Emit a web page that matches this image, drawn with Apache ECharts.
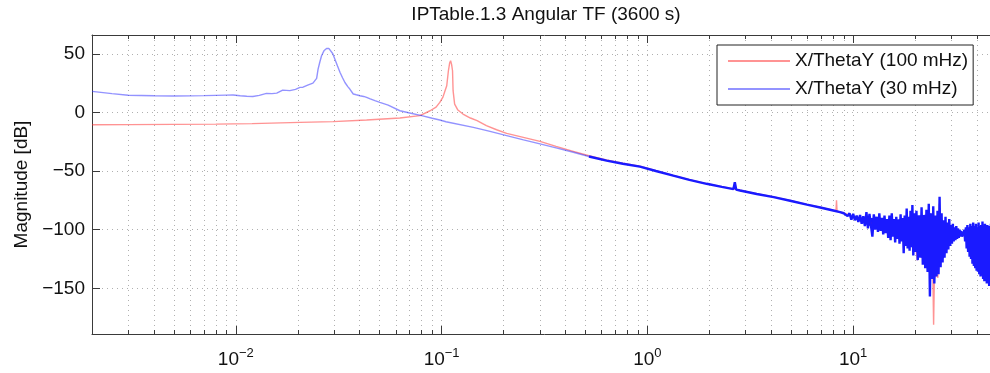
<!DOCTYPE html>
<html>
<head>
<meta charset="utf-8">
<script src="https://cdn.jsdelivr.net/npm/echarts@6/dist/echarts.min.js"></script>
<style>
  html, body { margin: 0; padding: 0; background: #fff; overflow: hidden; }
  #chart { width: 1000px; height: 373px; }
</style>
</head>
<body>
<div id="chart"></div>
<script>
// X/ThetaY (100 mHz) - red
const redFreq = [0.002, 0.003, 0.005, 0.008, 0.012, 0.0205, 0.0297, 0.0432, 0.0627, 0.0784,
  0.0879, 0.094, 0.098, 0.1015, 0.1039, 0.1059, 0.1079, 0.1094, 0.1106, 0.1118,
  0.113, 0.1137, 0.1157, 0.12, 0.127, 0.138, 0.1487, 0.165, 0.185, 0.2071,
  0.2495, 0.3007, 0.36, 0.4364, 0.52, 0.6337, 0.76, 0.92, 1.1, 1.336,
  1.6, 1.94, 2.3, 2.82, 3.4, 4.11, 5.0, 5.96, 7.0, 8.0,
  8.25, 8.3, 8.35, 8.63, 9.0];
const redMag = [-10.5, -10.4, -10.2, -10.0, -9.6, -8.5, -7.9, -6.5, -4.8, -2.8,
  1.4, 4.5, 8.5, 13.0, 18.5, 22.7, 35.5, 42.0, 44.0, 41.0,
  35.5, 18.5, 7.1, 2.0, -1.4, -4.8, -7.1, -11.3, -14.8, -17.9,
  -21.3, -24.7, -29.0, -33.2, -37.0, -40.6, -43.4, -45.9, -49.8, -53.7,
  -57.3, -60.7, -63.3, -66.4, -69.4, -72.1, -75.4, -78.4, -81.1, -83.5,
  -83.9, -75.0, -84.2, -84.9, -85.8];
const redNoiseFreq = [9.5, 10, 11, 12, 13, 14, 15, 16, 17, 18,
  19, 20, 20.5, 21, 22, 23, 24, 24.4, 24.6, 24.8,
  25.2, 25.8, 26.2, 26.5, 27, 28, 29, 30, 32, 34,
  36, 38, 40, 43, 46, 50];
const redNoiseMag = [-87.5, -89.5, -92, -94, -96, -98, -100, -102, -104, -106,
  -108, -110, -126, -112, -118, -122, -128, -140, -181, -142,
  -138, -141, -78, -125, -118, -112, -110, -107, -104, -103,
  -110, -118, -124, -130, -136, -140];

// X/ThetaY (30 mHz) - blue
const blueFreq = [0.002, 0.0025, 0.003, 0.004, 0.005, 0.006, 0.007, 0.008, 0.009, 0.0097,
  0.0105, 0.0113, 0.0121, 0.013, 0.0141, 0.015, 0.0158, 0.0169, 0.0183, 0.0195,
  0.0205, 0.0212, 0.0225, 0.0237, 0.0242, 0.0247, 0.0251, 0.0256, 0.0261, 0.0268,
  0.0276, 0.0283, 0.0289, 0.0296, 0.0303, 0.0312, 0.0321, 0.033, 0.0339, 0.035,
  0.0358, 0.0372, 0.0385, 0.0401, 0.0418, 0.0432, 0.045, 0.0474, 0.0501, 0.055,
  0.0627, 0.07, 0.08, 0.09, 0.098, 0.105, 0.1426, 0.17, 0.2071, 0.25,
  0.3007, 0.36, 0.4364, 0.52];
const blueMag = [17.9, 16.0, 14.6, 14.2, 14.0, 14.1, 14.3, 14.5, 14.7, 14.8,
  14.2, 13.8, 13.6, 14.5, 16.2, 16.0, 16.4, 19.0, 18.6, 19.6,
  21.3, 21.5, 23.5, 25.0, 25.5, 29.0, 36.9, 43.0, 48.3, 52.5,
  54.5, 54.6, 53.4, 50.0, 45.4, 39.5, 34.0, 29.5, 25.5, 22.0,
  19.9, 15.7, 15.0, 14.2, 13.6, 12.8, 11.5, 10.0, 8.5, 6.2,
  1.4, -0.5, -2.8, -5.0, -6.5, -8.0, -12.8, -16.0, -19.8, -23.5,
  -26.9, -30.3, -34.0, -37.6];
const blueHiFreq = [0.52, 0.6337, 0.76, 0.92, 1.1, 1.336, 1.6, 1.94, 2.3, 2.62,
  2.66, 2.7, 2.82, 3.4, 4.11, 5.0, 5.96, 7.0, 8.0, 8.63, 9.0];
const blueHiMag = [-37.6, -41.1, -43.8, -46.2, -50.0, -53.9, -57.5, -60.9, -63.5, -65.4,
  -59.6, -65.8, -66.6, -69.6, -72.3, -75.6, -78.6, -81.3, -83.7, -85.1, -86.0];
const blueNoiseFreq = [9.2, 9.4, 9.6, 9.8, 10.0, 10.2, 10.4, 10.6, 10.8, 11.0,
  11.2, 11.4, 11.6, 11.8, 12.0,
  12.2, 12.4, 12.6, 12.8, 13.0, 13.2, 13.4, 13.6, 13.8, 14.0,
  14.2, 14.4, 14.6, 14.8, 15.0, 15.2, 15.4, 15.6, 15.8, 16.0,
  16.2, 16.4, 16.6, 16.8, 17.0, 17.2, 17.4, 17.6, 17.8, 18.0,
  18.2, 18.4, 18.6, 18.8, 19.0, 19.2, 19.4, 19.6, 19.8, 20.0,
  20.3, 20.6, 20.9, 21.2, 21.5, 21.8, 22.1, 22.4, 22.7, 23.0,
  23.3, 23.6, 23.9, 24.2, 24.5, 24.8, 25.1, 25.4, 25.7, 26.0,
  26.3, 26.6, 26.9, 27.2, 27.5, 27.8, 28.1, 28.4, 28.7, 29.0,
  29.3, 29.6, 29.9, 30.2, 30.5, 30.8, 31.1, 31.4, 31.7, 32.0,
  32.3, 32.6, 32.9, 33.2, 33.5, 33.8, 34.1, 34.4, 34.7, 35.0,
  35.3, 35.6, 35.9, 36.2, 36.5, 36.8, 37.1, 37.4, 37.7, 38.0,
  38.3, 38.6, 38.9, 39.2, 39.5, 39.8, 40.1, 40.4, 40.7, 41.0,
  41.3, 41.6, 41.9, 42.2, 42.5, 42.8, 43.1, 43.4, 43.7, 44.0,
  44.3, 44.6, 44.9, 45.2, 45.5, 45.8, 46.1, 46.4, 46.7, 47.0,
  47.3, 47.6, 47.9, 48.2, 48.5, 48.8, 49.1, 49.4, 49.7, 50.0];
const blueNoiseMag = [-85.5, -88.5, -86.0, -91.5, -86.5, -92.0, -88.0, -93.5, -87.5, -95.0,
  -88.5, -97.0, -85.0, -99.0, -86.5,
  -88, -106, -87, -100, -89, -102, -86, -101, -90, -104,
  -88, -103, -91, -107, -88, -109, -86, -106, -91, -111,
  -89, -108, -92, -112, -87, -110, -90, -120, -88, -114,
  -82, -116, -89, -118, -84, -115, -79, -122, -86, -119,
  -84, -126, -88, -124, -81, -130, -90, -133, -83, -136,
  -78, -157, -86, -142, -80, -146, -88, -140, -84, -138,
  -72, -132, -86, -128, -92, -124, -89, -120, -94, -117,
  -91, -114, -96, -112, -95, -110, -98, -109, -97, -108,
  -99, -107, -100, -106, -101, -106, -102, -105, -100, -110,
  -98, -116, -96, -119, -98, -123, -95, -125, -97, -129,
  -94, -131, -97, -133, -95, -135, -98, -136, -94, -138,
  -97, -140, -96, -139, -93, -142, -97, -144, -95, -143,
  -98, -146, -96, -145, -99, -148, -97, -147, -95, -150,
  -98, -149, -97, -151, -99, -150, -96, -152, -98, -151];
// solid core of the blue noise band (top and bottom edge)
const blueCoreFreq = [11, 12.5, 14, 15.2, 17, 18.2, 19.6, 21, 22.8, 23.6,
  24.5, 25.3, 26.1, 28.2, 30.5, 32, 34.3, 35.6, 38.5, 41.5,
  44, 46.6, 50];
const blueCoreHigh = [-90, -90, -91, -92, -91, -90, -88, -88, -87, -86,
  -88, -89, -88, -96, -99, -101, -102, -100, -99, -99,
  -100, -100, -100];
const blueCoreLow = [-94, -98, -101, -104, -108, -111, -116, -122, -128, -134,
  -137, -132, -127, -116, -108, -105, -104, -111, -125, -133,
  -138, -142, -146];

// axes
const xMajorTicks = [0.01, 0.1, 1, 10];
const xMinorTicks = [0.003, 0.004, 0.005, 0.006, 0.007, 0.008, 0.009,
  0.02, 0.03, 0.04, 0.05, 0.06, 0.07, 0.08, 0.09,
  0.2, 0.3, 0.4, 0.5, 0.6, 0.7, 0.8, 0.9,
  2, 3, 4, 5, 6, 7, 8, 9,
  20, 30, 40];
const yTicks = [-150, -100, -50, 0, 50];

const FONT = 'Liberation Sans, Arial, Helvetica, sans-serif';
const zip = (xs, ys) => xs.map((x, i) => [x, ys[i]]);
const dotted = { color: '#b0b0b0', width: 1, type: [1, 4] };
const axisColor = '#3a3a3a';
const BLUE = '#1a1aff';

const chart = echarts.init(document.getElementById('chart'));

function logAxis(gridIndex, position, ticks, len, showLine) {
  return {
    type: 'log',
    logBase: 10,
    gridIndex,
    position,
    min: 0.002,
    max: 50,
    axisLine: { show: showLine, onZero: false, lineStyle: { color: axisColor, width: 1 } },
    axisTick: { show: true, inside: true, length: len, customValues: ticks,
      lineStyle: { color: axisColor, width: 1 } },
    axisLabel: { show: false },
    splitLine: { show: false }
  };
}

const xBottom = logAxis(0, 'bottom', xMajorTicks.concat(xMinorTicks), 4, true);
xBottom.splitLine = { show: true, lineStyle: dotted };
xBottom.axisLabel = {
  show: true,
  customValues: xMajorTicks,
  margin: 11,
  formatter: (v) => {
    const e = Math.round(Math.log10(v));
    return '{b|10}{s|' + String(e).replace('-', '\u2212') + '}';
  },
  rich: {
    b: { fontSize: 19, fontFamily: FONT, color: '#111', verticalAlign: 'bottom', lineHeight: 24 },
    s: { fontSize: 13, fontFamily: FONT, color: '#111', verticalAlign: 'bottom', lineHeight: 24, padding: [0, 0, 9, 0] }
  }
};

const option = {
  animation: false,
  backgroundColor: '#fff',
  textStyle: { fontFamily: FONT },
  title: {
    text: 'IPTable.1.3 Angular TF (3600 s)',
    left: 546,
    top: 5,
    padding: 0,
    textAlign: 'center',
    textStyle: { fontSize: 19, fontWeight: 'normal', color: '#111', fontFamily: FONT }
  },
  legend: {
    data: ['X/ThetaY (100 mHz)', 'X/ThetaY (30 mHz)'],
    orient: 'vertical',
    left: 717,
    top: 45,
    padding: [6, 5, 6, 11],
    itemGap: 8,
    icon: 'rect',
    itemWidth: 62,
    itemHeight: 2,
    backgroundColor: '#fff',
    borderColor: '#222',
    borderWidth: 1,
    borderRadius: 0,
    textStyle: { fontSize: 19, color: '#111', fontFamily: FONT, lineHeight: 20 }
  },
  grid: [
    { left: 92, top: 35, right: 3, bottom: 39 },
    { left: 92, top: 35, right: 3, bottom: 39 }
  ],
  xAxis: [
    xBottom,
    logAxis(0, 'top', xMajorTicks.concat(xMinorTicks), 4, true),
    logAxis(1, 'bottom', xMajorTicks, 8, false),
    logAxis(1, 'top', xMajorTicks, 8, false)
  ],
  yAxis: [
    {
      type: 'value',
      gridIndex: 0,
      min: -189,
      max: 66,
      name: 'Magnitude [dB]',
      nameLocation: 'middle',
      nameGap: 60,
      nameTextStyle: { fontSize: 19, color: '#111', fontFamily: FONT },
      axisLine: { show: true, onZero: false, lineStyle: { color: axisColor, width: 1 } },
      axisTick: { show: true, inside: true, length: 8, customValues: yTicks,
        lineStyle: { color: axisColor } },
      axisLabel: {
        customValues: yTicks,
        margin: 7,
        fontSize: 19,
        color: '#111',
        fontFamily: FONT,
        formatter: (v) => String(v).replace('-', '\u2212')
      },
      splitLine: { show: true, lineStyle: dotted }
    },
    { type: 'value', gridIndex: 1, min: -189, max: 66, show: false }
  ],
  series: [
    {
      name: 'X/ThetaY (100 mHz)',
      type: 'line',
      xAxisIndex: 0,
      yAxisIndex: 0,
      symbol: 'none',
      data: zip(redFreq.concat(redNoiseFreq), redMag.concat(redNoiseMag)),
      itemStyle: { color: 'rgba(255,40,40,0.5)' },
      lineStyle: { color: 'rgba(255,40,40,0.5)', width: 1.4 }
    },
    {
      name: 'X/ThetaY (30 mHz)',
      type: 'line',
      xAxisIndex: 0,
      yAxisIndex: 0,
      symbol: 'none',
      data: zip(blueFreq, blueMag),
      itemStyle: { color: 'rgba(40,40,255,0.5)' },
      lineStyle: { color: 'rgba(40,40,255,0.5)', width: 1.4 }
    },
    {
      name: 'X/ThetaY (30 mHz)',
      type: 'line',
      xAxisIndex: 0,
      yAxisIndex: 0,
      symbol: 'none',
      data: zip(blueHiFreq.concat(blueNoiseFreq), blueHiMag.concat(blueNoiseMag)),
      itemStyle: { color: 'rgba(40,40,255,0.5)' },
      lineStyle: { color: BLUE, width: 2.4 }
    }
  ]
};

chart.setOption(option);

// solid core of the noise band, placed through the grid's own scales
const toPx = (f, v) => chart.convertToPixel({ gridIndex: 0 }, [f, v]);
const corePts = blueCoreFreq.map((f, i) => toPx(f, blueCoreHigh[i]))
  .concat(blueCoreFreq.map((f, i) => toPx(f, blueCoreLow[i])).reverse());
chart.setOption({
  graphic: [{
    type: 'polygon',
    silent: true,
    z: 3,
    shape: { points: corePts },
    style: { fill: BLUE }
  }]
});

window.onresize = () => {
  chart.resize();
};
</script>
</body>
</html>
